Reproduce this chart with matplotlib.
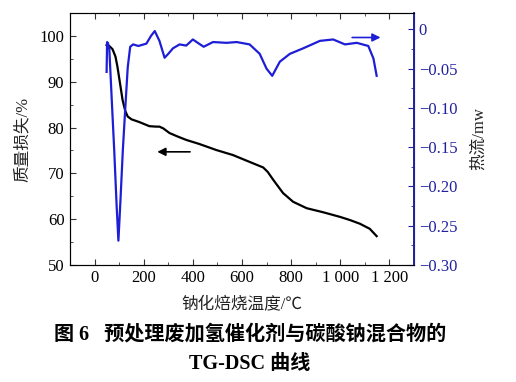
import matplotlib
matplotlib.use("Agg")
import matplotlib.pyplot as plt
from matplotlib.ticker import MultipleLocator

plt.rcParams['font.family'] = ['Liberation Serif', 'Noto Sans CJK SC']
plt.rcParams['mathtext.fontset'] = 'stix'

# TG curve (mass loss %)
tg_temp = [49, 60, 73, 85, 93, 104, 114, 125, 135, 150, 182, 223, 250, 264, 280, 305, 340, 373,
           427, 495, 563, 631, 672, 686, 705, 727, 767, 808, 863, 931, 999, 1040, 1080, 1120, 1148]
tg_mass = [98.0, 97.8, 97.1, 95.5, 93.3, 89.5, 86.0, 83.6, 82.4, 81.8, 81.2, 80.3, 80.2, 80.2, 79.8,
           78.8, 78.0, 77.3, 76.4, 75.1, 74.0, 72.5, 71.6, 71.3, 70.3, 68.6, 65.7, 63.8, 62.4, 61.5,
           60.5, 59.8, 59.0, 57.9, 56.3]

# DSC curve (heat flow mW)
dsc_temp = [49, 51, 55, 60, 70, 80, 90, 97, 105, 115, 125, 135, 145, 157, 178, 211, 230, 245, 264,
            285, 300, 319, 346, 373, 400, 420, 444, 482, 537, 578, 631, 672, 700, 723, 754, 795,
            849, 917, 971, 1019, 1067, 1114, 1135, 1148]
dsc_flow = [-0.054, -0.016, -0.018, -0.025, -0.090, -0.154, -0.226, -0.269, -0.220, -0.154, -0.100,
            -0.048, -0.022, -0.019, -0.021, -0.018, -0.008, -0.002, -0.0145, -0.036, -0.031, -0.024,
            -0.019, -0.0205, -0.0127, -0.017, -0.022, -0.016, -0.017, -0.016, -0.019, -0.031,
            -0.050, -0.059, -0.041, -0.031, -0.024, -0.0145, -0.0127, -0.019, -0.017, -0.021,
            -0.037, -0.059]

x_ticks = [0, 200, 400, 600, 800, 1000, 1200]
x_labels = ['0', '200', '400', '600', '800', '1 000', '1 200']
y_ticks = [50, 60, 70, 80, 90, 100]
y2_ticks = [0, -0.05, -0.10, -0.15, -0.20, -0.25, -0.30]
y2_labels = ['0', '−0.05', '−0.10', '−0.15', '−0.20', '−0.25', '−0.30']

blue = '#1e1ed6'
axblue = '#22229e'

fig = plt.figure(figsize=(5.16, 3.82), dpi=100)
ax = fig.add_axes([70/516, 1-265/382, (414-70)/516, (265-13)/382])
ax2 = ax.twinx()

ax.plot(tg_temp, tg_mass, color='black', lw=1.6, zorder=3)
ax2.plot(dsc_temp, dsc_flow, color=blue, lw=1.6)

ax.set_xlim(-100, 1300)
ax.set_ylim(50, 105)
ax2.set_ylim(-0.30, 0.021)

ax.set_xticks(x_ticks)
ax.set_xticklabels(x_labels)
ax.xaxis.set_minor_locator(MultipleLocator(100))
ax.set_yticks(y_ticks)
ax.yaxis.set_minor_locator(MultipleLocator(5))
ax2.set_yticks(y2_ticks)
ax2.set_yticklabels(y2_labels)
ax2.yaxis.set_minor_locator(MultipleLocator(0.025))

ax.tick_params(axis='both', which='both', direction='in', top=True, labelsize=12, color='#333333')
ax.tick_params(which='major', length=4)
ax.tick_params(which='minor', length=2)
ax.tick_params(axis='y', pad=4)
ax2.tick_params(axis='y', which='both', direction='in', labelsize=12, colors=axblue)
ax2.tick_params(which='major', length=4)
ax2.tick_params(which='minor', length=2)
ax2.spines['right'].set_color(axblue)
ax2.spines['right'].set_linewidth(1.4)
for s in ['left', 'bottom', 'top']:
    ax.spines[s].set_color('#333333')

ax.set_ylabel('质量损失/%', fontsize=12, labelpad=6, color='#222222')
ax2.set_ylabel('热流/mw', fontsize=12, labelpad=10, rotation=90, color='#222222')
ax.set_xlabel('钠化焙烧温度/℃', fontsize=12, labelpad=8, color='#222222')

ax.annotate('', xy=(244, 74.7), xytext=(400, 74.7),
            arrowprops=dict(arrowstyle='-|>', color='black', lw=1.2, mutation_scale=12))
ax2.annotate('', xy=(1175, -0.0102), xytext=(1037, -0.0102),
             arrowprops=dict(arrowstyle='-|>', color=blue, lw=1.2, mutation_scale=12))

fig.text(250/516, 1-335/382, '图 6   预处理废加氢催化剂与碳酸钠混合物的', ha='center', va='center',
         fontsize=14.5, fontweight='bold')
fig.text(250/516, 1-364/382, 'TG-DSC 曲线', ha='center', va='center', fontsize=14.5, fontweight='bold')

fig.savefig('out.png', dpi=100)
